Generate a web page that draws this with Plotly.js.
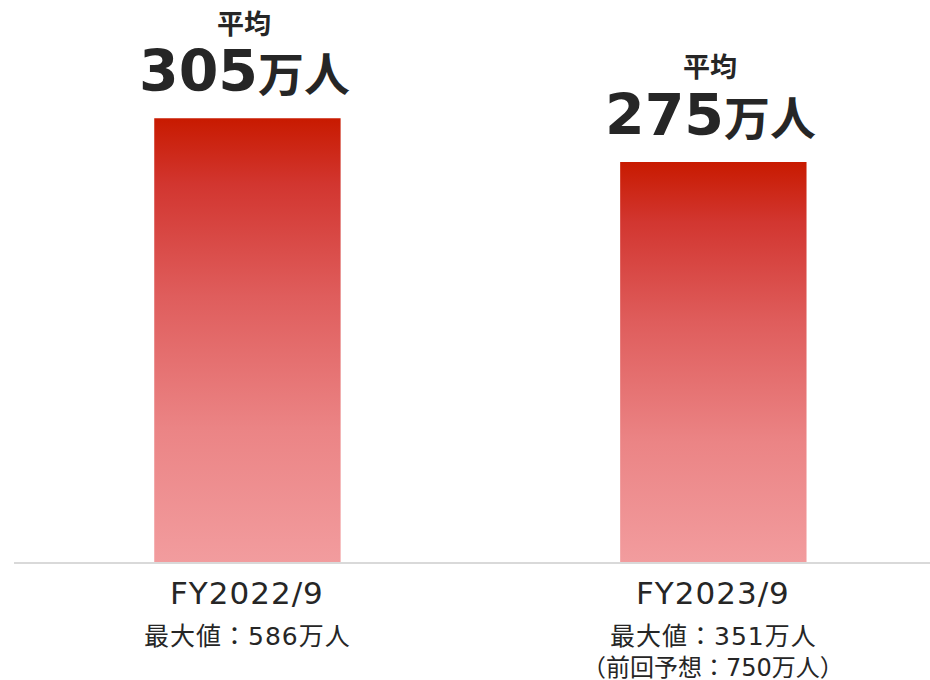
<!DOCTYPE html>
<html>
<head>
<meta charset="utf-8">
<script src="https://cdn.plot.ly/plotly-3.0.1.min.js"></script>
<style>
  html, body { margin: 0; padding: 0; background: #fff; }
  #plot { width: 930px; height: 680px; }
</style>
</head>
<body>
<div id="plot"></div>
<script>
const periods = ["FY2022/9", "FY2023/9"];
const avgUsers = [305, 275];       // 平均 (万人)
const maxUsers = [586, 351];       // 最大値 (万人)
const prevForecast = [null, 750];  // 前回予想 (万人)

// latin glyphs from DejaVu (wide, like the original), CJK falls back to Noto
const FONT = '"DejaVu Sans", "Noto Sans CJK JP", sans-serif';
const TEXT = "#262626";
const BAR_WIDTH = 0.4;
const gradient = [
  [0, "#f29c9e"],
  [0.3, "#eb8485"],
  [0.6, "#df5d5c"],
  [0.85, "#d23630"],
  [1, "#c81a00"],
];

const traces = avgUsers.map((v, i) => ({
  x: [i - BAR_WIDTH / 2, i + BAR_WIDTH / 2],
  y: [v, v],
  type: "scatter",
  mode: "none",
  fill: "tozeroy",
  fillgradient: { type: "vertical", colorscale: gradient, start: 0, stop: v },
  hoverinfo: "skip",
  showlegend: false,
}));

const spaced = (s, px) => `<span style="letter-spacing:${px}px">${s}</span>`;

const annotations = [];
avgUsers.forEach((v, i) => {
  annotations.push({
    x: i, y: v, xref: "x", yref: "y",
    text: "<b>平均</b>",
    showarrow: false, yanchor: "middle", yshift: 94, xshift: -3,
    font: { family: FONT, size: 27, color: TEXT },
  });
  annotations.push({
    x: i, y: v, xref: "x", yref: "y",
    text: `<b>${v}<span style="font-size:46px">万人</span></b>`,
    showarrow: false, yanchor: "middle", yshift: 47, xshift: -3,
    font: { family: FONT, size: 57, color: TEXT },
  });
  annotations.push({
    x: i, y: 0, xref: "x", yref: "y",
    text: spaced(periods[i], 1),
    showarrow: false, yanchor: "middle", yshift: -31,
    font: { family: FONT, size: 31, color: TEXT },
  });
  annotations.push({
    x: i, y: 0, xref: "x", yref: "y",
    text: spaced(`最大値：${maxUsers[i]}万人`, 1),
    showarrow: false, yanchor: "middle", yshift: -74,
    font: { family: FONT, size: 25, color: TEXT },
  });
  if (prevForecast[i] !== null) {
    annotations.push({
      x: i, y: 0, xref: "x", yref: "y",
      text: `（前回予想：${prevForecast[i]}万人）`,
      showarrow: false, yanchor: "middle", yshift: -106,
      font: { family: FONT, size: 24, color: TEXT },
    });
  }
});

const layout = {
  width: 930,
  height: 680,
  margin: { l: 14, r: 0, t: 0, b: 118 },
  paper_bgcolor: "#fff",
  plot_bgcolor: "#fff",
  xaxis: {
    range: [-0.501, 1.465],
    showgrid: false,
    zeroline: false,
    showticklabels: false,
    ticks: "",
    showline: true,
    linecolor: "#d9d9d9",
    linewidth: 2,
    fixedrange: true,
  },
  yaxis: {
    range: [0, 386.3],
    visible: false,
    showgrid: false,
    zeroline: false,
    fixedrange: true,
  },
  annotations,
};

Plotly.newPlot("plot", traces, layout, { staticPlot: true, displayModeBar: false });
</script>
</body>
</html>
